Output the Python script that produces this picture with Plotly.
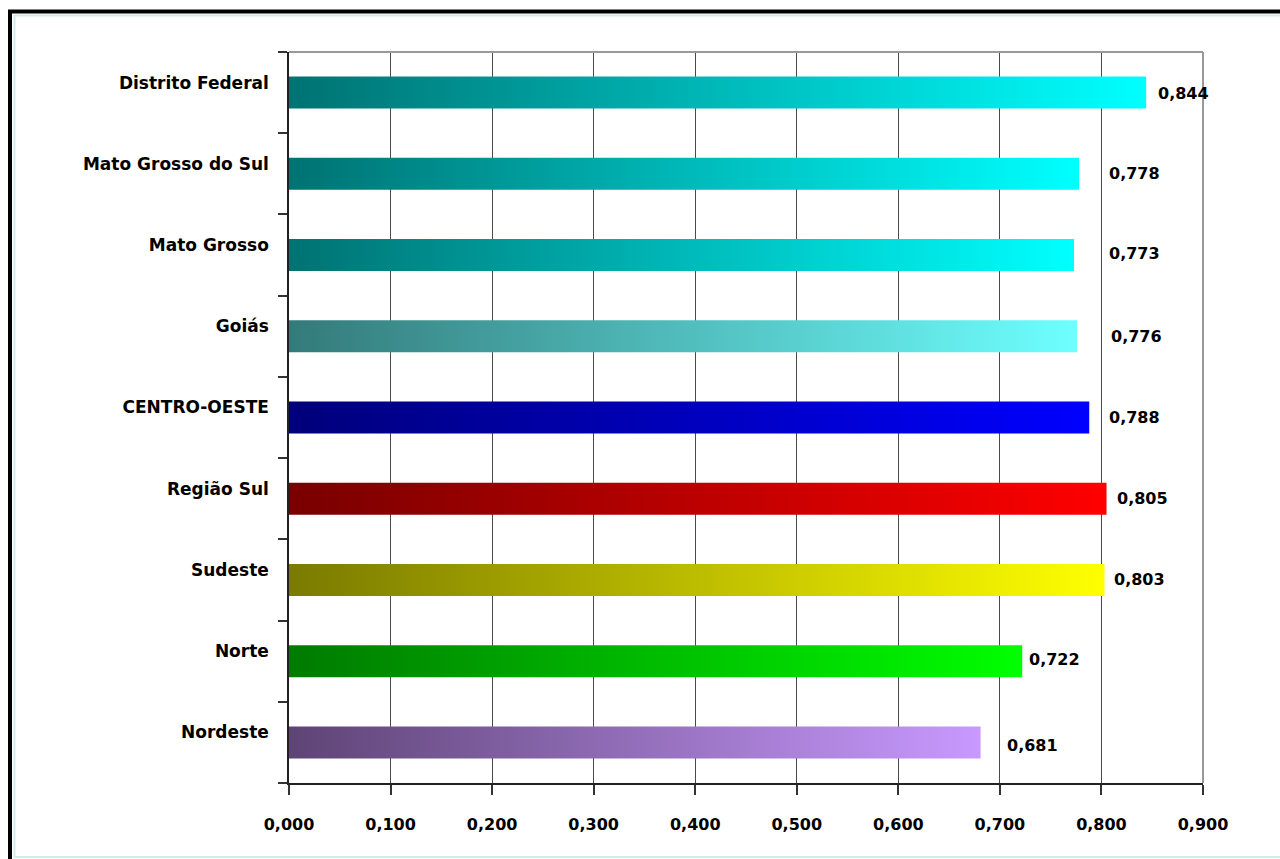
import plotly.graph_objects as go

# ---- data (top to bottom as shown) ----
categories = ["Distrito Federal", "Mato Grosso do Sul", "Mato Grosso", "Goiás",
              "CENTRO-OESTE", "Região Sul", "Sudeste", "Norte", "Nordeste"]
values = [0.844, 0.778, 0.773, 0.776, 0.788, 0.805, 0.803, 0.722, 0.681]

# ---- style ----
dark_colors = ["#007272", "#007272", "#007272", "#347a7a", "#00007a",
               "#780000", "#7a7a00", "#007a00", "#5e4475"]
bright_colors = ["#00ffff", "#00ffff", "#00ffff", "#6effff", "#0000ff",
                 "#ff0000", "#ffff00", "#00ff00", "#c899ff"]
label_xshift = [10, 28, 33, 32, 18, 8, 8, 5, 24]
label_yshift = [-1, 0, 2, 0, 0, 0, 0, 2, -3]
half_h = 0.197
FONT = "DejaVu Sans"

n = len(categories)
ypos = [n - 1 - i for i in range(n)]

fig = go.Figure()
for i in range(n):
    v = values[i]
    y = ypos[i]
    fig.add_trace(go.Scatter(
        x=[0, v, v, 0, 0],
        y=[y - half_h, y - half_h, y + half_h, y + half_h, y - half_h],
        mode="lines", line=dict(width=0),
        fill="toself",
        fillgradient=dict(type="horizontal",
                          colorscale=[[0, dark_colors[i]], [1, bright_colors[i]]]),
        hoverinfo="skip", showlegend=False,
    ))
    fig.add_annotation(
        x=v, y=y, xref="x", yref="y", text=f"{v:.3f}".replace(".", ","),
        showarrow=False, xanchor="left", yanchor="middle",
        xshift=label_xshift[i], yshift=label_yshift[i],
        font=dict(family=FONT, size=16, color="black", weight="bold"),
    )

fig.update_xaxes(
    range=[0, 0.9], dtick=0.1, tick0=0, tickformat=".3f",
    showgrid=True, gridcolor="#4a4a4a", gridwidth=1, zeroline=False,
    showline=True, linecolor="#222222", linewidth=1.5,
    ticks="outside", ticklen=10, tickcolor="#333333", tickwidth=1.5,
    ticklabelstandoff=16,
    tickfont=dict(family=FONT, size=16, color="black", weight="bold"),
    fixedrange=True,
)
fig.update_yaxes(
    range=[-0.5, n - 0.5], tickvals=ypos, ticktext=categories,
    showgrid=False, zeroline=False,
    showline=True, linecolor="#222222", linewidth=1.5,
    ticks="", ticklabelstandoff=15, ticklabelshift=-10,
    minor=dict(tick0=0.5, dtick=1, ticks="outside", ticklen=9,
               tickcolor="#333333", tickwidth=1.5, showgrid=False),
    tickfont=dict(family=FONT, size=17, color="black", weight="bold"),
    fixedrange=True,
)

# plot frame (top / right) and outer page frame
fig.add_shape(type="line", xref="paper", yref="paper", x0=0, x1=1, y0=1, y1=1,
              line=dict(color="#999999", width=2))
fig.add_shape(type="line", xref="paper", yref="paper", x0=1, x1=1, y0=0, y1=1,
              line=dict(color="#999999", width=2))

W, H = 1280, 859
L, R, T, B = 289, 77, 52, 76
pw, ph = W - L - R, H - T - B
def px(xpix):
    return (xpix - L) / pw
def py(ypix):
    return 1 - (ypix - T) / ph

fig.add_shape(type="rect", xref="paper", yref="paper",
              x0=px(10), x1=px(1300), y0=py(11.5), y1=py(890),
              line=dict(color="black", width=4), layer="below")
fig.add_shape(type="rect", xref="paper", yref="paper",
              x0=px(14.5), x1=px(1295), y0=py(15.5), y1=py(857),
              line=dict(color="#d2ecec", width=2), layer="below")

fig.update_layout(
    width=W, height=H,
    margin=dict(l=L, r=R, t=T, b=B, pad=0),
    paper_bgcolor="white", plot_bgcolor="white",
    separators=",.",
    showlegend=False,
    font=dict(family=FONT, size=17, color="black"),
)

fig.write_html("out.html")
